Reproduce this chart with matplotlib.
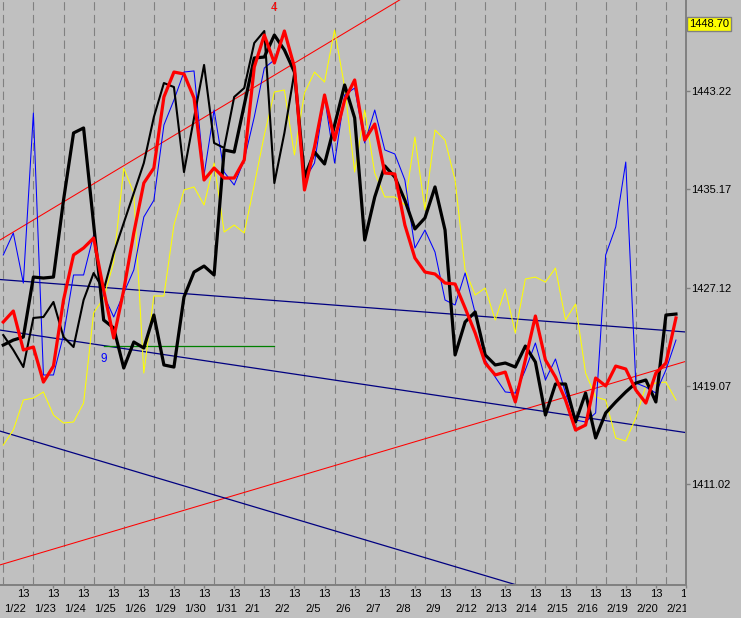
import matplotlib
matplotlib.use('Agg')
import matplotlib.pyplot as plt
import numpy as np
from matplotlib.transforms import Bbox, TransformedBbox

plt.rcParams['font.family'] = ['Liberation Sans', 'DejaVu Sans']

# ---------------- data ----------------
dates = ['1/22', '1/23', '1/24', '1/25', '1/26', '1/29', '1/30', '1/31', '2/1', '2/2',
         '2/5', '2/6', '2/7', '2/8', '2/9', '2/12', '2/13', '2/14', '2/15', '2/16',
         '2/19', '2/20', '2/21']
bars_per_day = 3
hour_label = '13'
price_ticks = [1411.02, 1419.07, 1427.12, 1435.17, 1443.22]
last_price = 1448.70

thick_black = [1422.42, 1422.83, 1423.08, 1427.99, 1427.91, 1427.99, 1434.28, 1439.79, 1440.20, 1432.33,
               1424.47, 1423.82, 1420.54, 1422.67, 1422.18, 1424.88, 1420.79, 1420.62, 1426.36, 1428.40,
               1428.89, 1428.16, 1438.40, 1438.23, 1442.08, 1445.93, 1446.01, 1447.81, 1446.59, 1444.78,
               1436.18, 1438.23, 1437.25, 1440.44, 1443.72, 1441.02, 1431.02, 1434.55, 1437.09, 1436.18,
               1434.28, 1431.93, 1432.83, 1435.37, 1431.84, 1421.61, 1424.31, 1425.13, 1421.61, 1420.79,
               1420.95, 1420.62, 1422.34, 1421.03, 1416.69, 1419.23, 1419.23, 1416.12, 1418.49, 1414.81,
               1416.86, 1417.76, 1418.58, 1419.31, 1419.56, 1417.76, 1424.88, 1424.96]

thin_black = [1423.24, 1422.02, 1420.62, 1424.64, 1424.72, 1425.95, 1423.08, 1422.26, 1426.11, 1428.32,
              1426.93, 1429.96, 1432.42, 1434.87, 1437.33, 1441.10, 1443.88, 1443.55, 1436.59, 1441.02,
              1445.36, 1438.97, 1438.56, 1442.74, 1443.47, 1447.16, 1448.14, 1435.69, 1439.79, 1444.78]

red_line = [1424.31, 1425.21, 1422.02, 1422.26, 1419.39, 1420.70, 1426.11, 1429.80, 1430.37, 1431.19,
            1426.93, 1423.00, 1426.93, 1431.60, 1435.69, 1436.92, 1442.74, 1444.78, 1444.62, 1442.65,
            1435.94, 1436.92, 1436.10, 1436.10, 1437.58, 1445.19, 1447.81, 1445.52, 1448.14, 1445.19,
            1435.12, 1438.64, 1442.90, 1439.21, 1442.49, 1444.13, 1439.21, 1440.52, 1436.51, 1436.43,
            1432.25, 1429.55, 1428.40, 1428.24, 1427.50, 1427.42, 1425.45, 1423.41, 1420.95, 1419.97,
            1420.21, 1417.76, 1421.20, 1424.80, 1421.20, 1419.80, 1417.92, 1415.46, 1415.87, 1419.72,
            1419.07, 1420.70, 1420.46, 1418.74, 1417.67, 1420.13, 1420.95, 1424.64]

blue_line = [1429.80, 1431.60, 1427.50, 1441.43, 1419.97, 1419.97, 1423.24, 1428.16, 1428.16, 1431.43,
             1426.52, 1424.72, 1426.68, 1428.57, 1432.91, 1434.28, 1440.44, 1442.49, 1444.78, 1444.87,
             1436.35, 1441.67, 1436.59, 1435.53, 1437.58, 1441.10, 1445.11, 1445.77, 1448.14, 1444.95,
             1435.94, 1437.33, 1442.74, 1437.33, 1442.90, 1443.47, 1438.97, 1441.67, 1438.40, 1438.07,
             1435.94, 1430.37, 1431.84, 1430.04, 1426.11, 1425.70, 1428.32, 1425.05, 1421.20, 1419.80,
             1418.58, 1418.49, 1420.38, 1422.59, 1419.56, 1421.28, 1418.49, 1416.28, 1416.12, 1416.86,
             1429.80, 1432.09, 1437.41, 1419.31, 1418.98, 1418.49, 1420.38, 1422.83]

yellow_line = [1414.23, 1415.46, 1417.92, 1418.08, 1418.58, 1416.69, 1416.04, 1416.12, 1417.67, 1425.05,
               1426.27, 1429.22, 1436.92, 1434.87, 1420.13, 1426.44, 1426.44, 1432.25, 1435.12, 1435.37,
               1433.89, 1437.33, 1431.68, 1432.25, 1431.60, 1435.53, 1439.62, 1443.15, 1443.31, 1437.99,
               1443.06, 1444.78, 1443.96, 1448.22, 1443.55, 1436.59, 1441.67, 1436.51, 1434.55, 1434.55,
               1433.89, 1439.46, 1433.48, 1440.03, 1439.21, 1435.94, 1428.57, 1426.52, 1427.09, 1424.47,
               1427.01, 1423.41, 1427.83, 1427.99, 1427.58, 1428.73, 1424.47, 1425.78, 1420.13, 1418.17,
               1417.92, 1414.81, 1414.56, 1416.45, 1419.07, 1419.31, 1419.39, 1417.92]

# straight trend lines: (bar index endpoints, price endpoints)
red_trend_upper_x, red_trend_upper_y = [-1, 45], [1430.69, 1453.41]
red_trend_lower_x, red_trend_lower_y = [-1, 68], [1404.25, 1421.09]
navy_trend1_x, navy_trend1_y = [-1, 68], [1427.83, 1423.49]
navy_trend2_x, navy_trend2_y = [-1, 68], [1423.73, 1415.25]
navy_trend3_x, navy_trend3_y = [-1, 68], [1415.54, 1398.64]
green_level_x, green_level_y = [10, 27], [1422.34, 1422.34]
label_nine = (10, 1421.3, '9')
label_four = (27, 1450.0, '4')

# ---------------- figure ----------------
W, H = 741, 618
fig = plt.figure(figsize=(W / 100, H / 100), dpi=100, facecolor='#c0c0c0')
ax_l, ax_r, ax_b = 0, 686, 585
ax = fig.add_axes([ax_l / W, 1 - ax_b / H, (ax_r - ax_l) / W, ax_b / H])
ax.set_facecolor('#c0c0c0')

ax.set_xlim(-0.325, 67.33)
ax.set_ylim(1402.77, 1450.68)

for s in ['left', 'top']:
    ax.spines[s].set_visible(False)
for s in ['right', 'bottom']:
    ax.spines[s].set_color('#808080')
    ax.spines[s].set_linewidth(1.4)

# vertical dashed day separators
for d in range(len(dates)):
    ax.axvline(d * bars_per_day, color='#808080', lw=0.8,
               dashes=(7.5, 4.0), zorder=0.5)

# trend lines
ax.plot(red_trend_upper_x, red_trend_upper_y, color='#ff0000', lw=0.75, zorder=1)
ax.plot(red_trend_lower_x, red_trend_lower_y, color='#ff0000', lw=0.75, zorder=1)
ax.plot(navy_trend1_x, navy_trend1_y, color='#000080', lw=0.9, zorder=1)
ax.plot(navy_trend2_x, navy_trend2_y, color='#000080', lw=0.9, zorder=1)
ax.plot(navy_trend3_x, navy_trend3_y, color='#000080', lw=0.9, zorder=1)
ax.plot(green_level_x, green_level_y, color='#008000', lw=0.9, zorder=1)

x_all = np.arange(len(thick_black))
ax.plot(x_all, yellow_line, color='#ffff00', lw=0.75, zorder=2)
ax.plot(x_all, blue_line, color='#0000ff', lw=0.75, zorder=3)
ax.plot(np.arange(len(thin_black)), thin_black, color='#000000', lw=1.5, zorder=4)
ax.plot(x_all, thick_black, color='#000000', lw=2.3, zorder=5)
ax.plot(x_all, red_line, color='#ff0000', lw=2.3, zorder=6)

ax.text(label_nine[0], label_nine[1], label_nine[2], color='#0000ff', fontsize=8.5,
        ha='center', va='center', zorder=7)
ax.text(label_four[0], label_four[1], label_four[2], color='#ff0000', fontsize=8.5,
        ha='center', va='center', zorder=7)

# right price axis
ax.yaxis.tick_right()
ax.set_yticks(price_ticks)
ax.set_yticklabels([f'{v:.2f}' for v in price_ticks])
ax.tick_params(axis='y', direction='out', length=3, width=1, color='#808080',
               labelsize=8, pad=1, labelcolor='black')
ax.text(1.004, last_price, f'{last_price:.2f}', transform=ax.get_yaxis_transform(),
        ha='left', va='center', fontsize=8, color='black', zorder=10, clip_on=False,
        bbox=dict(boxstyle='square,pad=0.2', facecolor='#ffff00', edgecolor='#808080', lw=1))

# bottom axis: "13" ticks and date labels
ax.set_xticks([d * bars_per_day + 2 for d in range(len(dates))])
ax.set_xticklabels([hour_label] * len(dates))
ax.tick_params(axis='x', direction='out', length=2, width=1, color='#808080',
               labelsize=8, pad=1)
clip = TransformedBbox(Bbox([[0, 0], [ax_r / W, 1]]), fig.transFigure)
for lab in ax.get_xticklabels():
    lab.set_clip_box(clip)
    lab.set_clip_on(True)
xform = ax.get_xaxis_transform()
for d, lab in enumerate(dates):
    t = ax.text(d * bars_per_day + 0.05, -0.041, lab, transform=xform, ha='left', va='center',
                fontsize=8, color='black')
    t.set_clip_box(clip)
    t.set_clip_on(True)

fig.savefig('out.png', dpi=100, facecolor='#c0c0c0')
